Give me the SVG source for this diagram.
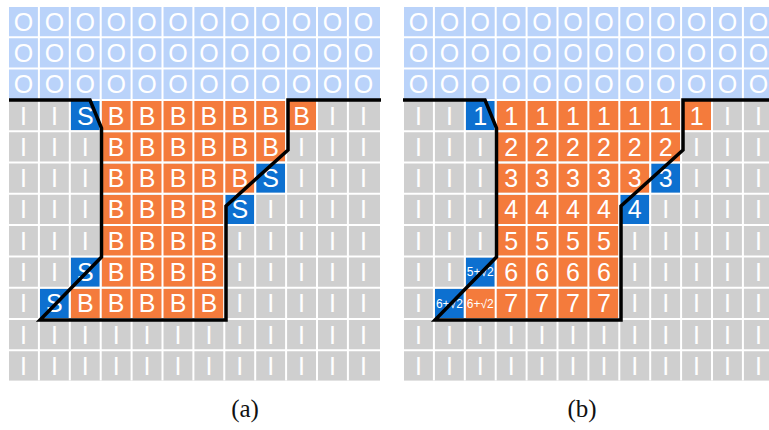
<svg xmlns="http://www.w3.org/2000/svg" width="769" height="430" viewBox="0 0 769 430">
<style>
.o{fill:#bad3fa}.g{fill:#cfcfcf}.b{fill:#f47b3c}.s{fill:#0d70d0}
.t text{font-family:"Liberation Sans",Arial,sans-serif;font-size:25px;fill:#fff;text-anchor:middle}
.t text.sm{font-size:12px}
.wl{stroke:#fff;stroke-width:2;fill:none}
.edge{stroke:#000;stroke-width:3.5;fill:none;stroke-linejoin:miter}
.cap{font-family:"Liberation Serif","Times New Roman",serif;font-size:25px;fill:#111;text-anchor:middle}
</style>
<rect width="769" height="430" fill="#fff"/>
<g id="grid-a">
<rect class="o" x="9" y="7" width="371" height="92.9"/>
<rect class="g" x="9" y="100.9" width="371" height="279.7"/>
<rect class="b" x="101.7" y="100.9" width="214.3" height="29.3"/>
<rect class="b" x="101.7" y="132.2" width="183.4" height="29.3"/>
<rect class="b" x="101.7" y="163.5" width="152.5" height="29.3"/>
<rect class="b" x="101.7" y="194.8" width="121.6" height="91.9"/>
<rect class="b" x="70.8" y="288.7" width="152.5" height="29.3"/>
<rect class="s" x="70.8" y="100.9" width="28.9" height="29.3"/>
<rect class="s" x="256.2" y="163.5" width="28.9" height="29.3"/>
<rect class="s" x="225.3" y="194.8" width="28.9" height="29.3"/>
<rect class="s" x="70.8" y="257.4" width="28.9" height="29.3"/>
<rect class="s" x="39.9" y="288.7" width="28.9" height="29.3"/>
<path class="wl" d="M38.9,7V380.6M69.8,7V380.6M100.7,7V380.6M131.6,7V380.6M162.5,7V380.6M193.4,7V380.6M224.3,7V380.6M255.2,7V380.6M286.1,7V380.6M317,7V380.6M347.9,7V380.6M9,37.3H380M9,68.6H380M9,99.9H380M9,131.2H380M9,162.5H380M9,193.8H380M9,225.1H380M9,256.4H380M9,287.7H380M9,319H380M9,350.3H380"/>
<g class="t">
<text x="23.5" y="30.6">O</text><text x="54.4" y="30.6">O</text><text x="85.3" y="30.6">O</text><text x="116.2" y="30.6">O</text><text x="147.1" y="30.6">O</text><text x="178" y="30.6">O</text><text x="208.9" y="30.6">O</text><text x="239.8" y="30.6">O</text><text x="270.7" y="30.6">O</text><text x="301.6" y="30.6">O</text><text x="332.5" y="30.6">O</text><text x="363.4" y="30.6">O</text>
<text x="23.5" y="61.9">O</text><text x="54.4" y="61.9">O</text><text x="85.3" y="61.9">O</text><text x="116.2" y="61.9">O</text><text x="147.1" y="61.9">O</text><text x="178" y="61.9">O</text><text x="208.9" y="61.9">O</text><text x="239.8" y="61.9">O</text><text x="270.7" y="61.9">O</text><text x="301.6" y="61.9">O</text><text x="332.5" y="61.9">O</text><text x="363.4" y="61.9">O</text>
<text x="23.5" y="93.2">O</text><text x="54.4" y="93.2">O</text><text x="85.3" y="93.2">O</text><text x="116.2" y="93.2">O</text><text x="147.1" y="93.2">O</text><text x="178" y="93.2">O</text><text x="208.9" y="93.2">O</text><text x="239.8" y="93.2">O</text><text x="270.7" y="93.2">O</text><text x="301.6" y="93.2">O</text><text x="332.5" y="93.2">O</text><text x="363.4" y="93.2">O</text>
<text x="23.5" y="124.5">I</text><text x="54.4" y="124.5">I</text><text x="85.3" y="124.5">S</text><text x="116.2" y="124.5">B</text><text x="147.1" y="124.5">B</text><text x="178" y="124.5">B</text><text x="208.9" y="124.5">B</text><text x="239.8" y="124.5">B</text><text x="270.7" y="124.5">B</text><text x="301.6" y="124.5">B</text><text x="332.5" y="124.5">I</text><text x="363.4" y="124.5">I</text>
<text x="23.5" y="155.8">I</text><text x="54.4" y="155.8">I</text><text x="85.3" y="155.8">I</text><text x="116.2" y="155.8">B</text><text x="147.1" y="155.8">B</text><text x="178" y="155.8">B</text><text x="208.9" y="155.8">B</text><text x="239.8" y="155.8">B</text><text x="270.7" y="155.8">B</text><text x="301.6" y="155.8">I</text><text x="332.5" y="155.8">I</text><text x="363.4" y="155.8">I</text>
<text x="23.5" y="187.1">I</text><text x="54.4" y="187.1">I</text><text x="85.3" y="187.1">I</text><text x="116.2" y="187.1">B</text><text x="147.1" y="187.1">B</text><text x="178" y="187.1">B</text><text x="208.9" y="187.1">B</text><text x="239.8" y="187.1">B</text><text x="270.7" y="187.1">S</text><text x="301.6" y="187.1">I</text><text x="332.5" y="187.1">I</text><text x="363.4" y="187.1">I</text>
<text x="23.5" y="218.4">I</text><text x="54.4" y="218.4">I</text><text x="85.3" y="218.4">I</text><text x="116.2" y="218.4">B</text><text x="147.1" y="218.4">B</text><text x="178" y="218.4">B</text><text x="208.9" y="218.4">B</text><text x="239.8" y="218.4">S</text><text x="270.7" y="218.4">I</text><text x="301.6" y="218.4">I</text><text x="332.5" y="218.4">I</text><text x="363.4" y="218.4">I</text>
<text x="23.5" y="249.7">I</text><text x="54.4" y="249.7">I</text><text x="85.3" y="249.7">I</text><text x="116.2" y="249.7">B</text><text x="147.1" y="249.7">B</text><text x="178" y="249.7">B</text><text x="208.9" y="249.7">B</text><text x="239.8" y="249.7">I</text><text x="270.7" y="249.7">I</text><text x="301.6" y="249.7">I</text><text x="332.5" y="249.7">I</text><text x="363.4" y="249.7">I</text>
<text x="23.5" y="281">I</text><text x="54.4" y="281">I</text><text x="85.3" y="281">S</text><text x="116.2" y="281">B</text><text x="147.1" y="281">B</text><text x="178" y="281">B</text><text x="208.9" y="281">B</text><text x="239.8" y="281">I</text><text x="270.7" y="281">I</text><text x="301.6" y="281">I</text><text x="332.5" y="281">I</text><text x="363.4" y="281">I</text>
<text x="23.5" y="312.3">I</text><text x="54.4" y="312.3">S</text><text x="85.3" y="312.3">B</text><text x="116.2" y="312.3">B</text><text x="147.1" y="312.3">B</text><text x="178" y="312.3">B</text><text x="208.9" y="312.3">B</text><text x="239.8" y="312.3">I</text><text x="270.7" y="312.3">I</text><text x="301.6" y="312.3">I</text><text x="332.5" y="312.3">I</text><text x="363.4" y="312.3">I</text>
<text x="23.5" y="343.6">I</text><text x="54.4" y="343.6">I</text><text x="85.3" y="343.6">I</text><text x="116.2" y="343.6">I</text><text x="147.1" y="343.6">I</text><text x="178" y="343.6">I</text><text x="208.9" y="343.6">I</text><text x="239.8" y="343.6">I</text><text x="270.7" y="343.6">I</text><text x="301.6" y="343.6">I</text><text x="332.5" y="343.6">I</text><text x="363.4" y="343.6">I</text>
<text x="23.5" y="374.9">I</text><text x="54.4" y="374.9">I</text><text x="85.3" y="374.9">I</text><text x="116.2" y="374.9">I</text><text x="147.1" y="374.9">I</text><text x="178" y="374.9">I</text><text x="208.9" y="374.9">I</text><text x="239.8" y="374.9">I</text><text x="270.7" y="374.9">I</text><text x="301.6" y="374.9">I</text><text x="332.5" y="374.9">I</text><text x="363.4" y="374.9">I</text>
</g>
</g>
<g id="grid-b">
<rect class="o" x="404" y="7" width="365" height="92.9"/>
<rect class="g" x="404" y="100.9" width="365" height="279.7"/>
<rect class="b" x="496.7" y="100.9" width="214.3" height="29.3"/>
<rect class="b" x="496.7" y="132.2" width="183.4" height="29.3"/>
<rect class="b" x="496.7" y="163.5" width="152.5" height="29.3"/>
<rect class="b" x="496.7" y="194.8" width="121.6" height="91.9"/>
<rect class="b" x="465.8" y="288.7" width="152.5" height="29.3"/>
<rect class="s" x="465.8" y="100.9" width="28.9" height="29.3"/>
<rect class="s" x="651.2" y="163.5" width="28.9" height="29.3"/>
<rect class="s" x="620.3" y="194.8" width="28.9" height="29.3"/>
<rect class="s" x="465.8" y="257.4" width="28.9" height="29.3"/>
<rect class="s" x="434.9" y="288.7" width="28.9" height="29.3"/>
<path class="wl" d="M433.9,7V380.6M464.8,7V380.6M495.7,7V380.6M526.6,7V380.6M557.5,7V380.6M588.4,7V380.6M619.3,7V380.6M650.2,7V380.6M681.1,7V380.6M712,7V380.6M742.9,7V380.6M404,37.3H769M404,68.6H769M404,99.9H769M404,131.2H769M404,162.5H769M404,193.8H769M404,225.1H769M404,256.4H769M404,287.7H769M404,319H769M404,350.3H769"/>
<g class="t">
<text x="418.5" y="30.6">O</text><text x="449.4" y="30.6">O</text><text x="480.3" y="30.6">O</text><text x="511.2" y="30.6">O</text><text x="542.1" y="30.6">O</text><text x="573" y="30.6">O</text><text x="603.9" y="30.6">O</text><text x="634.8" y="30.6">O</text><text x="665.7" y="30.6">O</text><text x="696.6" y="30.6">O</text><text x="727.5" y="30.6">O</text><text x="758.4" y="30.6">O</text>
<text x="418.5" y="61.9">O</text><text x="449.4" y="61.9">O</text><text x="480.3" y="61.9">O</text><text x="511.2" y="61.9">O</text><text x="542.1" y="61.9">O</text><text x="573" y="61.9">O</text><text x="603.9" y="61.9">O</text><text x="634.8" y="61.9">O</text><text x="665.7" y="61.9">O</text><text x="696.6" y="61.9">O</text><text x="727.5" y="61.9">O</text><text x="758.4" y="61.9">O</text>
<text x="418.5" y="93.2">O</text><text x="449.4" y="93.2">O</text><text x="480.3" y="93.2">O</text><text x="511.2" y="93.2">O</text><text x="542.1" y="93.2">O</text><text x="573" y="93.2">O</text><text x="603.9" y="93.2">O</text><text x="634.8" y="93.2">O</text><text x="665.7" y="93.2">O</text><text x="696.6" y="93.2">O</text><text x="727.5" y="93.2">O</text><text x="758.4" y="93.2">O</text>
<text x="418.5" y="124.5">I</text><text x="449.4" y="124.5">I</text><text x="480.3" y="124.5">1</text><text x="511.2" y="124.5">1</text><text x="542.1" y="124.5">1</text><text x="573" y="124.5">1</text><text x="603.9" y="124.5">1</text><text x="634.8" y="124.5">1</text><text x="665.7" y="124.5">1</text><text x="696.6" y="124.5">1</text><text x="727.5" y="124.5">I</text><text x="758.4" y="124.5">I</text>
<text x="418.5" y="155.8">I</text><text x="449.4" y="155.8">I</text><text x="480.3" y="155.8">I</text><text x="511.2" y="155.8">2</text><text x="542.1" y="155.8">2</text><text x="573" y="155.8">2</text><text x="603.9" y="155.8">2</text><text x="634.8" y="155.8">2</text><text x="665.7" y="155.8">2</text><text x="696.6" y="155.8">I</text><text x="727.5" y="155.8">I</text><text x="758.4" y="155.8">I</text>
<text x="418.5" y="187.1">I</text><text x="449.4" y="187.1">I</text><text x="480.3" y="187.1">I</text><text x="511.2" y="187.1">3</text><text x="542.1" y="187.1">3</text><text x="573" y="187.1">3</text><text x="603.9" y="187.1">3</text><text x="634.8" y="187.1">3</text><text x="665.7" y="187.1">3</text><text x="696.6" y="187.1">I</text><text x="727.5" y="187.1">I</text><text x="758.4" y="187.1">I</text>
<text x="418.5" y="218.4">I</text><text x="449.4" y="218.4">I</text><text x="480.3" y="218.4">I</text><text x="511.2" y="218.4">4</text><text x="542.1" y="218.4">4</text><text x="573" y="218.4">4</text><text x="603.9" y="218.4">4</text><text x="634.8" y="218.4">4</text><text x="665.7" y="218.4">I</text><text x="696.6" y="218.4">I</text><text x="727.5" y="218.4">I</text><text x="758.4" y="218.4">I</text>
<text x="418.5" y="249.7">I</text><text x="449.4" y="249.7">I</text><text x="480.3" y="249.7">I</text><text x="511.2" y="249.7">5</text><text x="542.1" y="249.7">5</text><text x="573" y="249.7">5</text><text x="603.9" y="249.7">5</text><text x="634.8" y="249.7">I</text><text x="665.7" y="249.7">I</text><text x="696.6" y="249.7">I</text><text x="727.5" y="249.7">I</text><text x="758.4" y="249.7">I</text>
<text x="418.5" y="281">I</text><text x="449.4" y="281">I</text><text class="sm" x="480.3" y="276.3">5+√2</text><text x="511.2" y="281">6</text><text x="542.1" y="281">6</text><text x="573" y="281">6</text><text x="603.9" y="281">6</text><text x="634.8" y="281">I</text><text x="665.7" y="281">I</text><text x="696.6" y="281">I</text><text x="727.5" y="281">I</text><text x="758.4" y="281">I</text>
<text x="418.5" y="312.3">I</text><text class="sm" x="449.4" y="307.7">6+√2</text><text class="sm" x="480.3" y="307.7">6+√2</text><text x="511.2" y="312.3">7</text><text x="542.1" y="312.3">7</text><text x="573" y="312.3">7</text><text x="603.9" y="312.3">7</text><text x="634.8" y="312.3">I</text><text x="665.7" y="312.3">I</text><text x="696.6" y="312.3">I</text><text x="727.5" y="312.3">I</text><text x="758.4" y="312.3">I</text>
<text x="418.5" y="343.6">I</text><text x="449.4" y="343.6">I</text><text x="480.3" y="343.6">I</text><text x="511.2" y="343.6">I</text><text x="542.1" y="343.6">I</text><text x="573" y="343.6">I</text><text x="603.9" y="343.6">I</text><text x="634.8" y="343.6">I</text><text x="665.7" y="343.6">I</text><text x="696.6" y="343.6">I</text><text x="727.5" y="343.6">I</text><text x="758.4" y="343.6">I</text>
<text x="418.5" y="374.9">I</text><text x="449.4" y="374.9">I</text><text x="480.3" y="374.9">I</text><text x="511.2" y="374.9">I</text><text x="542.1" y="374.9">I</text><text x="573" y="374.9">I</text><text x="603.9" y="374.9">I</text><text x="634.8" y="374.9">I</text><text x="665.7" y="374.9">I</text><text x="696.6" y="374.9">I</text><text x="727.5" y="374.9">I</text><text x="758.4" y="374.9">I</text>
</g>
</g>
<g id="boundaries">
<path class="edge" d="M9,100H90L101.5,128V257L40,320H226V206L288,150V100H381"/>
<path class="edge" d="M403,100H485L496.5,128V257L435,320H621V206L683,150V100H769"/>
</g>
<g id="captions">
<text class="cap" x="245" y="417">(a)</text>
<text class="cap" x="582" y="417">(b)</text>
</g>
</svg>
